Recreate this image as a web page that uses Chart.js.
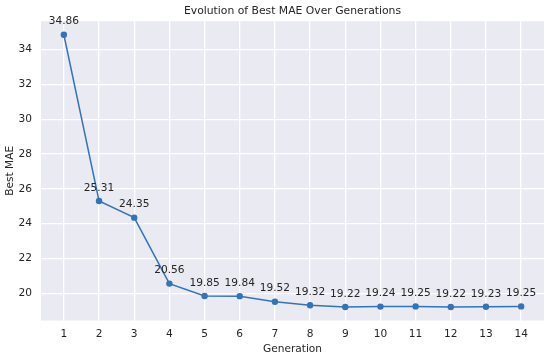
<!DOCTYPE html>
<html>
<head>
<meta charset="utf-8">
<script src="https://cdn.jsdelivr.net/npm/chart.js@4.4.0/dist/chart.umd.min.js"></script>
<style>
  html, body { margin: 0; padding: 0; background: #ffffff; }
  #wrap { width: 550px; height: 359px; }
</style>
</head>
<body>
<div id="wrap"><canvas id="maeChart" width="550" height="359"></canvas></div>
<script>
const generations = [1, 2, 3, 4, 5, 6, 7, 8, 9, 10, 11, 12, 13, 14];
const bestMae = [34.86, 25.31, 24.35, 20.56, 19.85, 19.84, 19.52, 19.32, 19.22, 19.24, 19.25, 19.22, 19.23, 19.25];
const yTicks = [20, 22, 24, 26, 28, 30, 32, 34];

const FONT = "'DejaVu Sans', sans-serif";
const FS = 10.6;
const TEXT = "#262626";

const plotBackground = {
    id: "plotBackground",
    beforeDraw(chart) {
        const { ctx, chartArea: a } = chart;
        ctx.save();
        ctx.fillStyle = "#eaeaf2";
        ctx.fillRect(a.left, a.top, a.right - a.left, a.bottom - a.top);
        ctx.restore();
    },
};

// value text above every point
const pointLabels = {
    id: "pointLabels",
    afterDatasetsDraw(chart) {
        const { ctx } = chart;
        const meta = chart.getDatasetMeta(0);
        ctx.save();
        ctx.font = FS + "px " + FONT;
        ctx.fillStyle = TEXT;
        ctx.textAlign = "center";
        ctx.textBaseline = "middle";
        meta.data.forEach((pt, i) => {
            ctx.fillText(bestMae[i].toFixed(2), pt.x, pt.y - 13);
        });
        ctx.restore();
    },
};

new Chart(document.getElementById("maeChart"), {
    type: "line",
    data: {
        datasets: [
            {
                data: generations.map((g, i) => ({ x: g, y: bestMae[i] })),
                borderColor: "#3274b8",
                backgroundColor: "#3274b8",
                borderWidth: 1.5,
                pointRadius: 3.2,
                pointHoverRadius: 3.2,
                pointBorderWidth: 0,
                tension: 0,
            },
        ],
    },
    options: {
        responsive: false,
        animation: false,
        layout: { padding: { left: 0, right: 6, top: 0, bottom: 0 } },
        plugins: {
            legend: { display: false },
            tooltip: { enabled: false },
            title: {
                display: true,
                text: "Evolution of Best MAE Over Generations",
                fullSize: false,
                color: TEXT,
                font: { family: FONT, size: 10.8, weight: "normal" },
                padding: { top: 5, bottom: 3.2 },
            },
        },
        scales: {
            x: {
                type: "linear",
                min: 0.35,
                max: 14.65,
                afterBuildTicks(scale) {
                    scale.ticks = generations.map((v) => ({ value: v }));
                },
                afterFit(scale) {
                    scale.height = 38.5;
                },
                grid: { color: "#ffffff", lineWidth: 1.3, drawTicks: false },
                border: { display: false },
                ticks: {
                    color: TEXT,
                    font: { family: FONT, size: FS },
                    padding: 7.5,
                    maxRotation: 0,
                },
                title: {
                    display: true,
                    text: "Generation",
                    color: TEXT,
                    font: { family: FONT, size: FS },
                    padding: { top: 3.6, bottom: 3.6 },
                },
            },
            y: {
                min: 18.44,
                max: 35.64,
                afterBuildTicks(scale) {
                    scale.ticks = yTicks.map((v) => ({ value: v }));
                },
                afterFit(scale) {
                    scale.width = 41;
                },
                grid: { color: "#ffffff", lineWidth: 1.3, drawTicks: false },
                border: { display: false },
                ticks: {
                    color: TEXT,
                    font: { family: FONT, size: FS },
                    padding: 9,
                },
                title: {
                    display: true,
                    text: "Best MAE",
                    color: TEXT,
                    font: { family: FONT, size: FS },
                    padding: { top: 3.6, bottom: 3.6 },
                },
            },
        },
    },
    plugins: [plotBackground, pointLabels],
});
</script>
</body>
</html>
